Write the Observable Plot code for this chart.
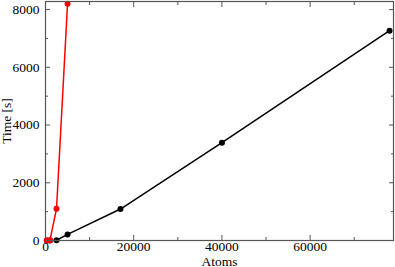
<!DOCTYPE html>
<html><head><meta charset="utf-8">
<script src="https://cdn.jsdelivr.net/npm/d3@7"></script>
<script src="https://cdn.jsdelivr.net/npm/@observablehq/plot@0.6"></script>
<style>body{margin:0;background:#fff;} svg{display:block;} svg text{font-family:'Liberation Serif','Times New Roman',serif !important;font-size:13.5px !important;}</style>
</head><body><div id="chart"></div>
<script>
const redAtoms = [300, 1000, 2500, 5000];
const redTime = [0, 5, 1100, 8200];
const blackAtoms = [300, 1000, 2500, 5000, 17000, 40000, 78000];
const blackTime = [0, 2, 10, 210, 1090, 3390, 7270];
const xMajor = [0, 20000, 40000, 60000];
const xMinor = [10000, 30000, 50000, 70000];
const yMajor = [0, 2000, 4000, 6000, 8000];
const yMinor = [1000, 3000, 5000, 7000];

const red = redAtoms.map((a, i) => ({a, t: redTime[i]}));
const black = blackAtoms.map((a, i) => ({a, t: blackTime[i]}));
const axisColor = "#555";
const font = "'Liberation Serif', 'Times New Roman', serif";
const fmt = d3.format("d");

const chart = Plot.plot({
  width: 395, height: 267,
  marginLeft: 45, marginRight: 2, marginTop: 1, marginBottom: 27,
  style: {fontFamily: font, fontSize: "13.5px", color: "#000", background: "#fff"},
  x: {domain: [0, 78900]},
  y: {domain: [0, 8280]},
  marks: [
    Plot.line(black, {x: "a", y: "t", stroke: "#000", strokeWidth: 1.5}),
    Plot.dot(black, {x: "a", y: "t", fill: "#000", r: 3}),
    Plot.line(red, {x: "a", y: "t", stroke: "#ff0000", strokeWidth: 1.5}),
    Plot.dot(red, {x: "a", y: "t", fill: "#ff0000", r: 3}),
    Plot.frame({stroke: axisColor, strokeWidth: 1.2}),
    // bottom axis
    Plot.axisX({anchor: "bottom", ticks: xMajor, tickFormat: fmt, tickSize: -5, tickPadding: 6, stroke: axisColor, label: "Atoms", labelAnchor: "center", labelArrow: "none", labelOffset: 25, fill: "#000"}),
    Plot.axisX({anchor: "bottom", ticks: xMinor, tickSize: -3, tickFormat: () => "", stroke: axisColor, label: null}),
    Plot.axisX({anchor: "top", ticks: xMajor, tickSize: -5, tickFormat: () => "", stroke: axisColor, label: null}),
    Plot.axisX({anchor: "top", ticks: xMinor, tickSize: -3, tickFormat: () => "", stroke: axisColor, label: null}),
    // left axis
    Plot.axisY({anchor: "left", ticks: yMajor, tickFormat: fmt, tickSize: -5, tickPadding: 11, stroke: axisColor, label: "Time [s]", labelAnchor: "center", labelArrow: "none", labelOffset: 44, fill: "#000"}),
    Plot.axisY({anchor: "left", ticks: yMinor, tickSize: -3, tickFormat: () => "", stroke: axisColor, label: null}),
    Plot.axisY({anchor: "right", ticks: yMajor, tickSize: -5, tickFormat: () => "", stroke: axisColor, label: null}),
    Plot.axisY({anchor: "right", ticks: yMinor, tickSize: -3, tickFormat: () => "", stroke: axisColor, label: null})
  ]
});
document.getElementById("chart").appendChild(chart);
</script>
</body></html>
